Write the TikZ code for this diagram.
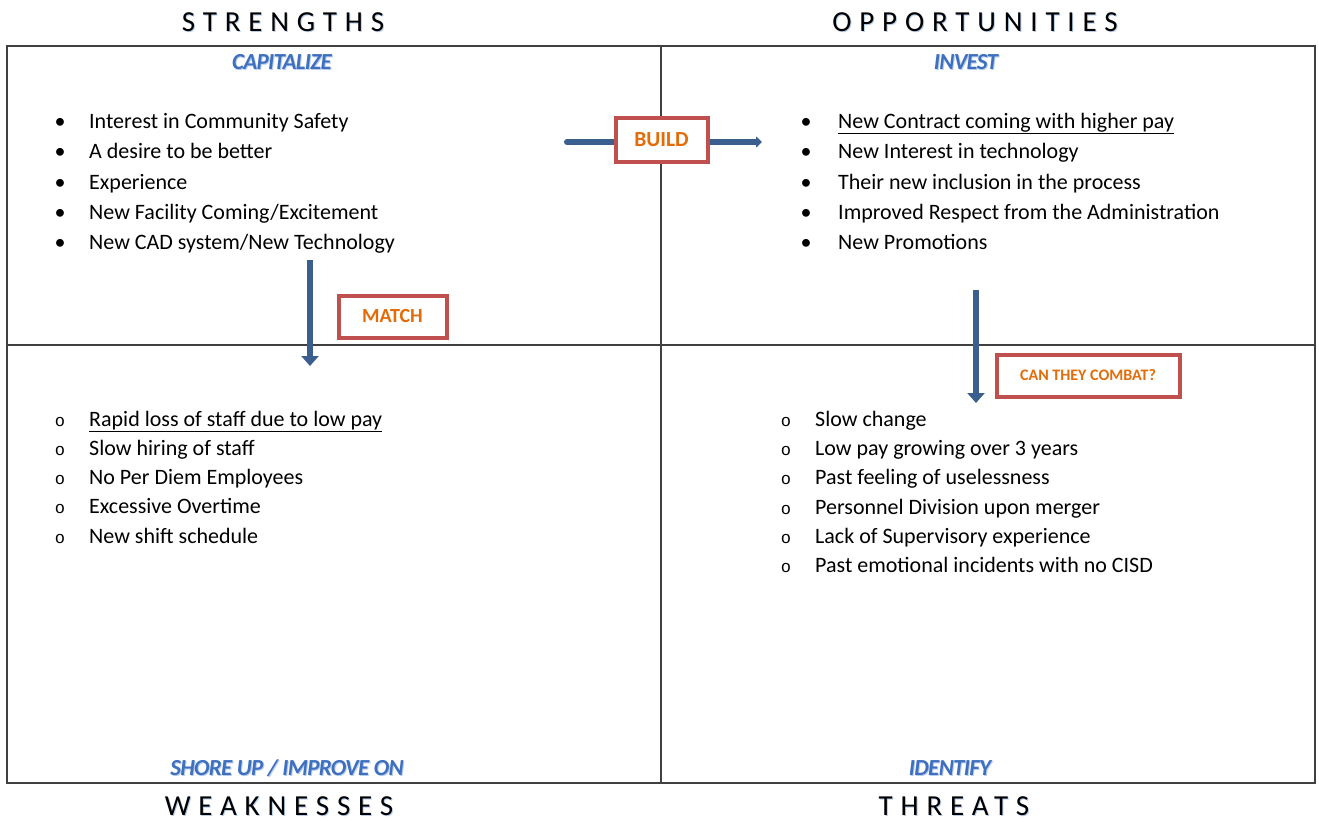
\documentclass[tikz,border=0pt]{standalone}
\usepackage{fontspec}
\setmainfont{Carlito}
\newfontfamily\monofont{Liberation Mono}
\usetikzlibrary{arrows.meta}
\definecolor{gridline}{HTML}{404040}
\definecolor{arrowblue}{HTML}{3A5F8F}
\definecolor{boxred}{HTML}{C0504D}
\definecolor{textorange}{HTML}{E36C09}
\definecolor{labelblue}{HTML}{3F6FBF}
\definecolor{glowblue}{HTML}{B8CDEB}
\tikzset{
  quad/.style={draw=gridline, line width=1.2pt},
  heading/.style={font=\fontsize{29}{34}\selectfont\addfontfeature{LetterSpace=27}, text=black, inner sep=0pt},
  headglow/.style={font=\fontsize{29}{34}\selectfont\addfontfeature{LetterSpace=27}, text=glowblue, inner sep=0pt},
  tag/.style={font=\fontsize{23}{27}\selectfont\bfseries\itshape\addfontfeature{LetterSpace=-3}, text=labelblue, inner sep=0pt},
  item/.style={font=\fontsize{22}{26}\selectfont, anchor=base west, inner sep=0pt},
  dot/.style={font=\fontsize{22}{26}\selectfont, anchor=base, inner sep=0pt},
  ring/.style={font=\fontsize{17}{20}\monofont, anchor=base, inner sep=0pt},
  callout/.style={draw=boxred, line width=4pt, fill=white, text=textorange, font=\bfseries, inner sep=0pt},
  flow/.style={draw=arrowblue, line width=6pt},
}
\begin{document}
\begin{tikzpicture}[x=1pt, y=-1pt]
\useasboundingbox (0,0) rectangle (1319,822);
\fill[white] (0,0) rectangle (1319,822);

% quadrant grid
\draw[quad] (7,46) rectangle (1315,783);
\draw[quad] (661,46) -- (661,783);
\draw[quad] (7,345) -- (1315,345);

% headings above and below the grid
\foreach \nm/\tx/\px/\py in {hs/STRENGTHS/283/22, ho/OPPORTUNITIES/975/22, hw/WEAKNESSES/279/806, ht/THREATS/954/806}{
  \node[headglow] at (\px+1,\py+1.5) {\tx};
  \node[heading] (\nm) at (\px,\py) {\tx};
}

% action labels inside the quadrants
\foreach \nm/\tx/\px/\py in {ts/CAPITALIZE/282/62, to/INVEST/966/62, tw/{SHORE UP / IMPROVE ON}/287/768, tt/IDENTIFY/950/768}{
  \node[tag, text=glowblue] at (\px+1,\py+1.2) {\tx};
  \node[tag] (\nm) at (\px,\py) {\tx};
}

% strengths
\foreach \i/\tx/\py in {1/Interest in Community Safety/128, 2/A desire to be better/158, 3/Experience/189, 4/New Facility Coming\slash Excitement/219, 5/New CAD system\slash New Technology/249}{
  \node[dot] (sd\i) at (60,\py) {\textbullet};
  \node[item] (s\i) at (89,\py) {\tx};
}

% opportunities
\foreach \i/\tx/\py in {1/\underline{New Contract coming with higher pay}/128, 2/New Interest in technology/158, 3/Their new inclusion in the process/189, 4/Improved Respect from the Administration/219, 5/New Promotions/249}{
  \node[dot] (od\i) at (806,\py) {\textbullet};
  \node[item] (o\i) at (838,\py) {\tx};
}

% weaknesses
\foreach \i/\tx/\py in {1/\underline{Rapid loss of staff due to low pay}/426, 2/Slow hiring of staff/455, 3/No Per Diem Employees/484, 4/Excessive Overtime/513, 5/New shift schedule/543}{
  \node[ring] (wd\i) at (60,\py) {o};
  \node[item] (w\i) at (89,\py) {\tx};
}

% threats
\foreach \i/\tx/\py in {1/Slow change/426, 2/Low pay growing over 3 years/455, 3/Past feeling of uselessness/484, 4/Personnel Division upon merger/514, 5/Lack of Supervisory experience/543, 6/Past emotional incidents with no CISD/572}{
  \node[ring] (td\i) at (786,\py) {o};
  \node[item] (t\i) at (815,\py) {\tx};
}

% arrows between quadrants
\coordinate (buildA) at (567,142);
\coordinate (buildB) at (762,142);
\draw[flow, line cap=round, -{Triangle[width=11pt,length=6pt]}] (buildA) -- (buildB);
\coordinate (matchA) at (310,260);
\coordinate (matchB) at (310,366);
\draw[flow, -{Triangle[width=17pt,length=10pt]}] (matchA) -- (matchB);
\coordinate (combatA) at (976,290);
\coordinate (combatB) at (976,403);
\draw[flow, -{Triangle[width=17pt,length=10pt]}] (combatA) -- (combatB);

% callout boxes
\node[callout, minimum width=92pt, minimum height=44pt, font=\fontsize{21.5}{25}\selectfont\bfseries] (build) at (661.5,139.5) {BUILD};
\node[callout, minimum width=108pt, minimum height=42pt, font=\fontsize{20}{24}\selectfont\bfseries] (match) at (392.5,316.5) {MATCH};
\node[callout, minimum width=183pt, minimum height=42pt, font=\fontsize{16}{19}\selectfont\bfseries] (combat) at (1088,375.5) {CAN THEY COMBAT?};
\end{tikzpicture}
\end{document}
